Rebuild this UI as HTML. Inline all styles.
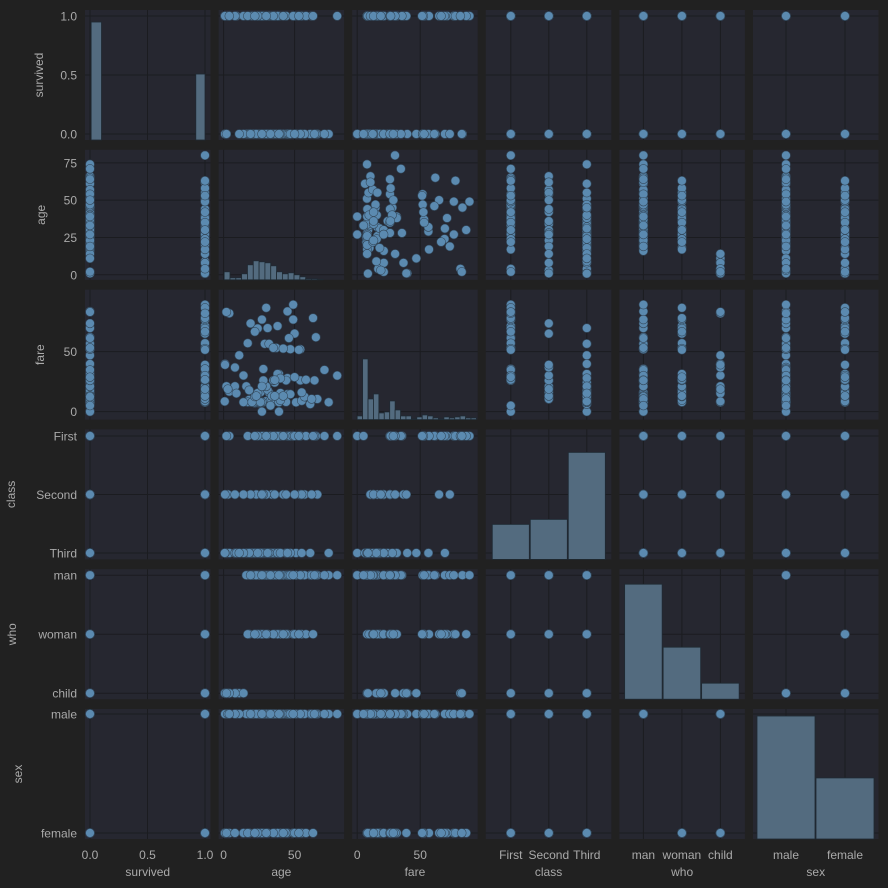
<!DOCTYPE html>
<html><head><meta charset="utf-8"><style>
html,body{margin:0;padding:0;background:#212121;}
svg{display:block;font-family:"Liberation Sans",sans-serif;}
</style></head><body>
<svg id="chart" width="888" height="888" viewBox="0 0 888 888" xmlns="http://www.w3.org/2000/svg">
<rect x="0" y="0" width="888" height="888" fill="#212121"/>
</svg>
<script>
// ---- data ----
const varNames = ["survived","age","fare","class","who","sex"];
const classCats = ["First","Second","Third"];
const whoCats = ["man","woman","child"];
const sexCats = ["male","female"];
const survived = [
0,0,0,0,0,0,0,0,0,0, 0,0,0,0,0,0,0,0,0,0, 0,0,0,0,0,0,0,0,0,0,
1,1,1,1,1,
1,0,1,0,1,0,1,0,
0,1,0,1,0,1,0,1,
1,1,0,0,0,0,0,0,1,0,
1,1,1,0,1,1,1,
1,1,1,1,
0,0,1,0,0,1,0,0,1,0,1,0,1,0,0,0,
1,1,1,1,1,1,0,1,1,1,1,1,
1,0];
const age = [
22,35,20,39,19,21,28,25,30,45, 33,24,26,40,18,29,51,36,23,32, 44,27,17,61,74,34,47,55,16,31,
25,32,27,20,39,
26,31,38,40,22,45,24,18,
2,4,14,8,1,9,11,0.8,
35,34,66,23,54,30,42,57,62,19,
55,27,28,27,44,36,50,
3,14,8,1,
54,40,28,71,45,80,65,46,36,47,49,37,27,64,39,33,
38,35,58,49,63,24,50,30,17,42,53,22,
4,2];
const fare = [
7.25,8.05,8.05,31.3,7.9,8.05,7.9,7.2,8.7,14.5, 9.5,7.8,16.1,15.5,9.8,56.5,7.75,24.2,7.9,15.9, 8.05,0,7.9,6.2,7.8,8.05,14.5,9,21.1,69.6,
7.9,56.5,8,7.9,7.9,
7.9,18,31.4,9.5,12.5,27.9,15.5,17.8,
21.1,16.7,7.85,21.1,39.7,15.2,46.9,8.5,
26,13,10.5,13,26,21,13,12.35,10.5,73.5,
16,21,26,21,26,13,65,
18.75,30.1,36.75,39,
51.9,27.7,35.5,34.7,83.5,30,61.98,61.2,26.3,52,89.1,53.1,76.7,26,0,5,
71.3,53.1,26.55,76.7,77.96,69.3,28.7,86.5,57,52.55,51.5,66.6,
81.9,83];
const classIdx = [
2,2,2,2,2,2,2,2,2,2, 2,2,2,2,2,2,2,2,2,2, 2,2,2,2,2,2,2,2,2,2,
2,2,2,2,2,
2,2,2,2,2,2,2,2,
2,2,2,2,2,2,2,2,
1,1,1,1,1,1,1,1,1,1,
1,1,1,1,1,1,1,
1,1,1,1,
0,0,0,0,0,0,0,0,0,0,0,0,0,0,0,0,
0,0,0,0,0,0,0,0,0,0,0,0,
0,0];
const whoIdx = [
0,0,0,0,0,0,0,0,0,0, 0,0,0,0,0,0,0,0,0,0, 0,0,0,0,0,0,0,0,0,0,
0,0,0,0,0,
1,1,1,1,1,1,1,1,
2,2,2,2,2,2,2,2,
0,0,0,0,0,0,0,0,0,0,
1,1,1,1,1,1,1,
2,2,2,2,
0,0,0,0,0,0,0,0,0,0,0,0,0,0,0,0,
1,1,1,1,1,1,1,1,1,1,1,1,
2,2];
const sexIdx = [
0,0,0,0,0,0,0,0,0,0, 0,0,0,0,0,0,0,0,0,0, 0,0,0,0,0,0,0,0,0,0,
0,0,0,0,0,
1,1,1,1,1,1,1,1,
0,1,1,1,0,0,0,1,
0,0,0,0,0,0,0,0,0,0,
1,1,1,1,1,1,1,
0,1,0,1,
0,0,0,0,0,0,0,0,0,0,0,0,0,0,0,0,
1,1,1,1,1,1,1,1,1,1,1,1,
0,1];
// diagonal histogram counts
const survivedCounts = [549,307];
const ageCounts = [24,6,6,18,45,57,54,51,42,24,18,21,15,9,3,3,1];
const fareCounts = [11,182,62,77,20,23,56,29,11,11,2,8,14,11,5,2,8,5,8,11,5,5];
const classCounts = [70,80,214];
const whoCounts = [460,208,64];
const sexCounts = [578,287];
// tick labels
const survivedTicks = [0,0.5,1];
const survivedTickLabels = ["0.0","0.5","1.0"];
const ageTicksY = [0,25,50,75];
const ageTicksX = [0,50];
const fareTicks = [0,50];

// ---- layout / scales ----
const NS = "http://www.w3.org/2000/svg";
const svg = document.getElementById("chart");
const colLeft = c => 85 + 133.6*c, colW = 125.5;
const rowTop = r => 10 + 139.8*r, rowH = 130;
const yTitleX = [43, 45, 44, 15, 16, 22];
const cols = {survived:survived, age:age, fare:fare, "class":classIdx, who:whoIdx, sex:sexIdx};
const xMap = {
  survived: v => 5 + 115*v,
  age: v => 5 + 1.42*v,
  fare: v => 5 + 1.26*v,
  "class": i => 25 + 38*i,
  who: i => 24 + 38.5*i,
  sex: i => 33 + 59*i
};
const yMap = {
  survived: v => 124 - 118*v,
  age: v => 125 - 1.493*v,
  fare: v => 122 - 1.2*v,
  "class": i => 6.6 + 58.5*i,
  who: i => 6 + 59*i,
  sex: i => 5 + 119*i
};
const idx = a => a.map((_,i)=>i);
const xTicks = {survived:survivedTicks, age:ageTicksX, fare:fareTicks, "class":idx(classCats), who:idx(whoCats), sex:idx(sexCats)};
const xTickLabels = {survived:survivedTickLabels, age:ageTicksX.map(String), fare:fareTicks.map(String), "class":classCats, who:whoCats, sex:sexCats};
const yTicks = {survived:survivedTicks, age:ageTicksY, fare:fareTicks, "class":idx(classCats), who:idx(whoCats), sex:idx(sexCats)};
const yTickLabels = {survived:survivedTickLabels, age:ageTicksY.map(String), fare:fareTicks.map(String), "class":classCats, who:whoCats, sex:sexCats};

function mk(tag, attrs, parent){
  const e = document.createElementNS(NS, tag);
  for (const k in attrs) e.setAttribute(k, attrs[k]);
  (parent||svg).appendChild(e);
  return e;
}

for (let r=0;r<6;r++){
  for (let c=0;c<6;c++){
    const L = colLeft(c), T = rowTop(r);
    const vx = varNames[c], vy = varNames[r];
    const g = mk("g", {transform:`translate(${L},${T})`});
    
    
    const bg = mk("rect", {x:0,y:0,width:colW,height:rowH,fill:"#262730"}, g);
    
    
    xTicks[vx].forEach(t => {
      const x = xMap[vx](t);
      const ln = mk("line", {x1:x,x2:x,y1:0,y2:rowH,stroke:"#1b1c20","stroke-width":1}, g);
      
      
    });
    yTicks[vy].forEach(t => {
      const y = yMap[vy](t);
      const ln = mk("line", {x1:0,x2:colW,y1:y,y2:y,stroke:"#1b1c20","stroke-width":1}, g);
      
      
    });
    if (r === c){
      drawHist(g, vx);
    } else {
      const xs = cols[vx], ys = cols[vy];
      for (let i=0;i<xs.length;i++){
        const pt = mk("circle", {cx:xMap[vx](xs[i]), cy:yMap[vy](ys[i]), r:4.4, fill:"#5b8ab0", stroke:"#34495c","stroke-width":0.6}, g);
        
        
      }
    }
  }
}

function histBar(g, x0, x1, count, ymax){
  const h = count/ymax*rowH;
  const b = mk("rect", {x:x0, y:rowH-h, width:Math.max(0,x1-x0), height:h, fill:"#536b7f", stroke:"#1f2a33","stroke-width":0.8}, g);
  
  
}
function drawHist(g, v){
  if (v === "survived"){
    const ymax = 605;
    histBar(g, xMap.survived(0.01), xMap.survived(0.1), survivedCounts[0], ymax);
    histBar(g, xMap.survived(0.92), xMap.survived(1.0), survivedCounts[1], ymax);
  } else if (v === "age"){
    const ymax = 390, bw = 4.1, start = 0.4;
    ageCounts.forEach((n,i)=>histBar(g, xMap.age(start+i*bw), xMap.age(start+(i+1)*bw), n, ymax));
  } else if (v === "fare"){
    const ymax = 390, bw = 4.3;
    fareCounts.forEach((n,i)=>histBar(g, xMap.fare(i*bw), xMap.fare((i+1)*bw), n, ymax));
  } else if (v === "class"){
    classCounts.forEach((n,i)=>histBar(g, xMap["class"](i-0.5)+0.5, xMap["class"](i+0.5)-0.5, n, 260));
  } else if (v === "who"){
    whoCounts.forEach((n,i)=>histBar(g, xMap.who(i-0.5)+0.5, xMap.who(i+0.5)-0.5, n, 520));
  } else if (v === "sex"){
    sexCounts.forEach((n,i)=>histBar(g, xMap.sex(i-0.5)+0.5, xMap.sex(i+0.5)-0.5, n, 611));
  }
}

for (let r=0;r<6;r++){
  const v = varNames[r], T = rowTop(r);
  yTicks[v].forEach((t,k)=>{
    const tx = mk("text", {x:77, y:T+yMap[v](t)+4.5, "text-anchor":"end", "font-size":12, fill:"#aaaaaa"});
    tx.textContent = yTickLabels[v][k];
    
    
  });
  const cy = T + rowH/2;
  const tt = mk("text", {x:0, y:0, transform:`translate(${yTitleX[r]},${cy}) rotate(-90)`, "text-anchor":"middle", "font-size":12, fill:"#aaaaaa"});
  tt.textContent = v;
  
  
}
for (let c=0;c<6;c++){
  const v = varNames[c], L = colLeft(c);
  xTicks[v].forEach((t,k)=>{
    const tx = mk("text", {x:L+xMap[v](t), y:859, "text-anchor":"middle", "font-size":12, fill:"#aaaaaa"});
    tx.textContent = xTickLabels[v][k];
    
    
  });
  const tt = mk("text", {x:L+colW/2, y:876, "text-anchor":"middle", "font-size":12, fill:"#aaaaaa"});
  tt.textContent = v;
  
  
}
</script>
</body></html>
